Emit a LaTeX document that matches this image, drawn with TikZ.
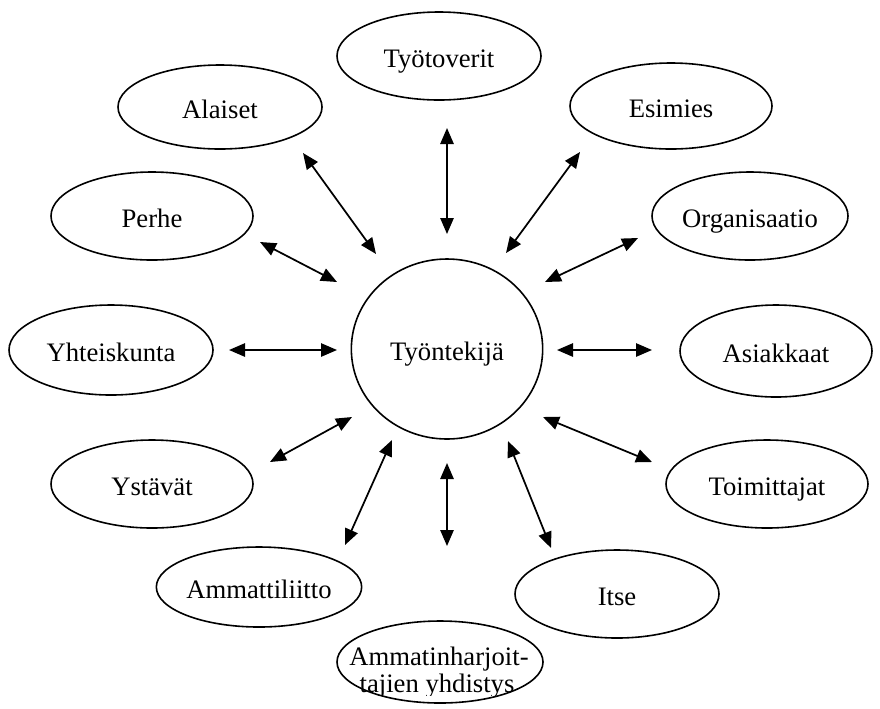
\documentclass[tikz,border=0pt]{standalone}
\usepackage{fontspec}
\setmainfont{Liberation Serif}
\usetikzlibrary{shapes.geometric,arrows.meta}
\begin{document}
\begin{tikzpicture}[x=0.75pt,y=-0.75pt,
  oval/.style={draw,ellipse,line width=1.2pt,inner sep=0pt,
    text height=16.5pt,text depth=0pt,
    font=\fontsize{20}{20}\selectfont},
  txt/.style={inner sep=0pt,anchor=base,font=\fontsize{20}{20}\selectfont},
  link/.style={line width=1.3pt,{Triangle[length=12pt,width=10pt]}-{Triangle[length=12pt,width=10pt]}}]
\useasboundingbox (0,0) rectangle (880,708);
% central node
\node[oval,minimum width=143.5pt,minimum height=135pt] (c) at (447,349) {Työntekijä};
% outer nodes
\node[oval,minimum width=153pt,minimum height=66pt] (tyo) at (439,56) {Työtoverit};
\node[oval,minimum width=153pt,minimum height=63pt] (ala) at (220,107) {Alaiset};
\node[oval,minimum width=151.5pt,minimum height=64.5pt] (esi) at (671,106) {Esimies};
\node[oval,minimum width=151.5pt,minimum height=66pt] (per) at (152,216) {Perhe};
\node[oval,minimum width=147pt,minimum height=66pt] (org) at (750,216) {Organisaatio};
\node[oval,minimum width=153pt,minimum height=67.5pt] (yht) at (111,350) {Yhteiskunta};
\node[oval,minimum width=144pt,minimum height=69pt] (asi) at (776,351) {Asiakkaat};
\node[oval,minimum width=151.5pt,minimum height=66pt] (yst) at (152,484) {Ystävät};
\node[oval,minimum width=151.5pt,minimum height=66pt] (toi) at (767,484) {Toimittajat};
\node[oval,minimum width=150pt,minimum height=60pt] (amm) at (259,587) {Ammattiliitto};
\node[oval,minimum width=153pt,minimum height=66pt] (itse) at (617,594) {Itse};
\node[oval,minimum width=154.5pt,minimum height=61.5pt] (ah) at (440,662) {};
\begin{scope}
  \clip (300,600) rectangle (600,695);
  \node[txt] (ah1) at (439,665) {Ammatinharjoit-};
  \node[txt] (ah2) at (437,692) {tajien yhdistys};
\end{scope}
% arrow end points
\coordinate (t1) at (447,128); \coordinate (t2) at (447,234);
\coordinate (a1) at (303,153); \coordinate (a2) at (376,254);
\coordinate (e1) at (580,152); \coordinate (e2) at (506,253);
\coordinate (p1) at (260,242); \coordinate (p2) at (337,282);
\coordinate (o1) at (638,238); \coordinate (o2) at (545,282);
\coordinate (y1) at (229,350); \coordinate (y2) at (337,350);
\coordinate (s1) at (652,350); \coordinate (s2) at (557,350);
\coordinate (v1) at (270,462); \coordinate (v2) at (352,417);
\coordinate (m1) at (652,462); \coordinate (m2) at (543,417);
\coordinate (l1) at (345,545); \coordinate (l2) at (392,440);
\coordinate (h1) at (447,546); \coordinate (h2) at (447,463);
\coordinate (i1) at (551,548); \coordinate (i2) at (508,441);
\foreach \p in {t,a,e,p,o,y,s,v,m,l,h,i}
  \draw[link] (\p1) -- (\p2);
\end{tikzpicture}
\end{document}
